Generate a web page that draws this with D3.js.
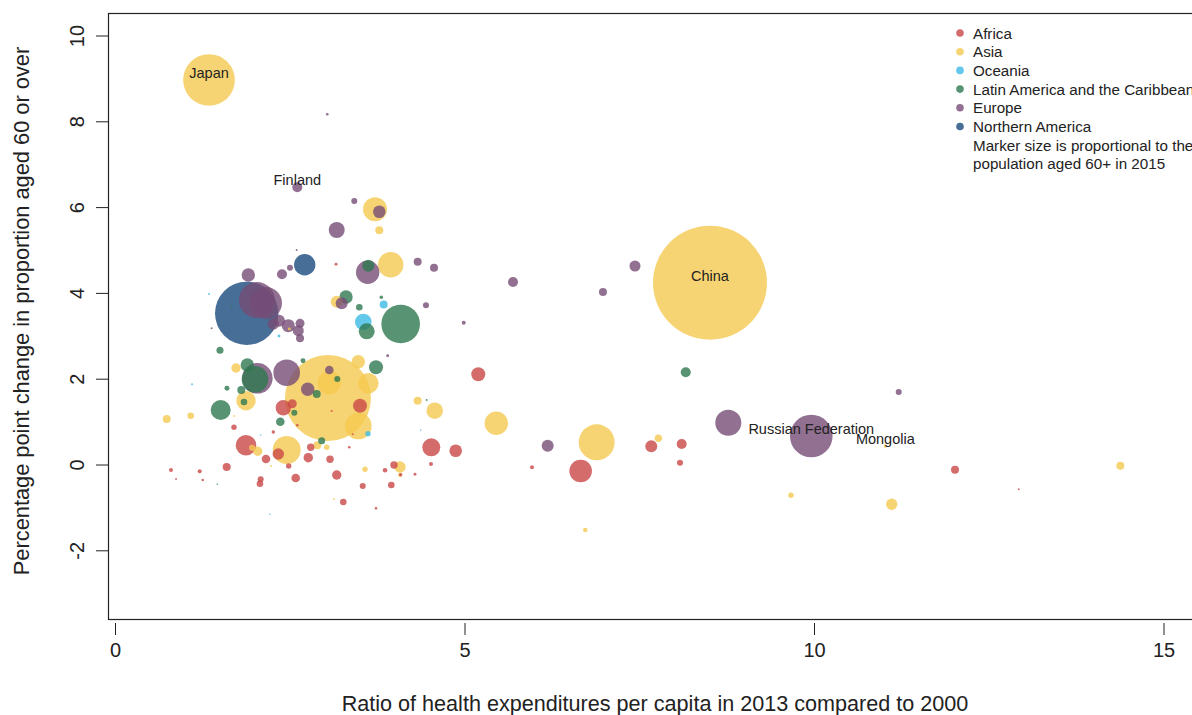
<!DOCTYPE html>
<html><head><meta charset="utf-8">
<script src="https://cdn.jsdelivr.net/npm/d3@7"></script>
<style>body{margin:0;background:#fff}svg{display:block;font-family:"Liberation Sans",Arial,sans-serif}</style>
</head><body><svg id="c" width="1192" height="715"></svg>
<script>
// Region names and colours
const regionNames = ["Africa","Asia","Oceania","Latin America and the Caribbean","Europe","Northern America"];
const regionColors = ["#C94747","#F5C950","#3DBAE6","#2E7850","#764C76","#184A7C"];

// [ratio of health expenditure 2013/2000, pp change in share aged 60+, population 60+ in 2015 (millions)]
const africa = [
 [2.408,1.324,3.81],[2.536,1.417,1.30],[1.702,0.867,0.47],[2.265,0.758,0.19],[1.874,0.448,6.82],
 [2.336,0.245,2.09],[2.160,0.128,1.19],[1.598,-0.058,1.03],[1.212,-0.159,0.26],[1.255,-0.361,0.11],
 [2.485,-0.035,0.47],[2.765,0.159,1.42],[2.800,0.401,0.88],[3.076,0.121,0.88],[2.084,-0.345,0.58],
 [2.074,-0.448,0.70],[2.585,-0.315,1.19],[2.608,0.914,0.11],[3.505,1.371,3.15],[3.100,1.247,0.06],
 [3.401,0.704,0.06],[3.352,0.401,0.11],[3.991,-0.012,0.88],[3.863,-0.135,0.34],[4.087,-0.238,0.19],
 [4.292,-0.228,0.14],[3.172,-0.245,1.42],[3.544,-0.501,0.58],[3.953,-0.478,0.70],[3.266,-0.874,0.70],
 [3.734,-1.021,0.11],[5.197,2.103,3.15],[4.525,0.401,5.21],[4.874,0.322,2.55],[4.521,0.012,0.26],
 [5.966,-0.065,0.26],[6.662,-0.152,8.2],[7.672,0.424,2.31],[8.107,0.478,1.61],[8.083,0.042,0.58],
 [12.017,-0.121,1.03],[12.929,-0.578,0.06],[0.801,-0.128,0.26],[0.873,-0.338,0.06],[3.162,4.667,0.14]
];
const asia = [
 [1.345,8.963,43],[8.512,4.238,209],[3.047,1.550,118.9],[3.720,5.949,9.26],[3.781,5.459,1.03],
 [3.944,4.657,10.4],[3.172,3.795,2.31],[3.066,1.907,8.8],[3.481,2.396,2.89],[3.624,1.893,6.82],
 [3.481,0.897,11.37],[1.874,1.487,6.05],[1.731,2.249,1.42],[0.740,1.061,1.03],[1.083,1.138,0.70],
 [1.707,1.131,0.06],[1.960,0.392,0.58],[2.041,0.308,1.42],[2.456,0.338,12.6],[2.894,0.448,1.03],
 [3.029,0.401,0.47],[2.236,-0.035,0.06],[3.577,-0.112,0.47],[4.077,-0.058,2.09],[4.077,-0.245,0.26],
 [3.133,-0.804,0.06],[4.330,1.487,1.03],[4.574,1.254,4.43],[5.455,0.960,8.8],[6.891,0.517,20.8],
 [7.773,0.611,0.88],[6.728,-1.527,0.34],[9.671,-0.718,0.47],[11.112,-0.928,2.09],[11.02,0.431,0.19],
 [14.382,-0.028,1.03],[2.494,3.159,0.14]
];
const oceania = [
 [3.552,3.322,4.43],[3.844,3.730,1.03],[3.619,0.718,0.47],[2.346,2.995,0.14],[1.345,3.974,0.06],
 [1.102,1.869,0.06],[2.084,0.688,0.04],[4.373,0.804,0.03],[2.217,-1.161,0.04]
];
const latinAmerica = [
 [4.087,3.275,23.95],[2.003,1.986,11.4],[1.512,1.270,6.43],[3.624,4.634,2.31],[3.305,3.904,2.89],
 [3.495,3.664,0.70],[3.810,3.897,0.19],[3.601,3.105,4.12],[3.734,2.266,3.15],[2.690,2.420,0.40],
 [1.893,2.319,2.89],[1.602,1.776,0.40],[1.807,1.737,1.03],[1.845,1.457,0.70],[2.886,1.643,1.03],
 [3.180,1.993,0.58],[2.565,1.207,0.58],[2.365,0.998,1.19],[2.957,0.555,0.79],[1.502,2.662,0.79],
 [8.165,2.149,1.61],[4.459,1.503,0.06],[1.670,3.678,0.06],[1.464,-0.462,0.04]
];
const europe = [
 [2.608,6.462,1.61],[3.172,5.466,4.12],[3.423,6.142,0.58],[3.781,5.893,2.55],[3.615,4.480,8.8],
 [4.330,4.727,1.03],[4.564,4.587,1.03],[3.243,3.758,2.31],[4.449,3.711,0.58],[4.989,3.305,0.26],
 [3.901,2.536,0.14],[3.037,8.163,0.11],[2.599,5.000,0.06],[2.504,4.587,0.58],[2.389,4.434,1.61],
 [1.907,4.417,2.89],[2.031,3.834,20.8],[2.160,3.765,16.5],[2.265,3.275,2.09],[2.346,3.352,2.31],
 [2.479,3.235,2.72],[2.647,3.291,1.30],[2.622,3.119,1.95],[2.647,2.942,1.03],[1.383,3.175,0.06],
 [2.036,2.009,15.05],[2.456,2.140,11.4],[2.757,1.753,2.89],[3.066,2.203,1.19],[6.190,0.438,2.31],
 [7.439,4.627,1.95],[6.981,4.021,1.03],[5.694,4.254,1.61],[8.774,0.974,10.9],[9.961,0.664,29.2],
 [11.212,1.690,0.58]
];
const northernAmerica = [
 [1.884,3.524,64.6],[2.714,4.657,7.36]
];

// Labelled countries: name, x, y
const labelNames = ["Japan","China","Finland","Russian Federation","Mongolia"];
const labelX = [1.345,8.512,2.608,9.961,11.02];
const labelY = [8.963,4.238,6.462,0.664,0.431];

const xTicks = [0,5,10,15];
const yTicks = [-2,0,2,4,6,8,10];
const xTitle = "Ratio of health expenditures per capita in 2013 compared to 2000";
const yTitle = "Percentage point change in proportion aged 60 or over";
const legendNote = ["Marker size is proportional to the","population aged 60+ in 2015"];

const svg = d3.select("#c");
const box = {left:108, top:13, right:1210, bottom:619};
const x = d3.scaleLinear().domain([0,15]).range([115,1163.5]);
const y = d3.scaleLinear().domain([0,10]).range([464.5,35.5]);
const r = d3.scaleSqrt().domain([0,209]).range([0,57]);

const series = [africa, asia, oceania, latinAmerica, europe, northernAmerica];
let pts = [];
series.forEach((arr,i)=>arr.forEach(d=>pts.push({x:d[0],y:d[1],p:d[2],reg:i})));
pts.sort((a,b)=>b.p-a.p);

svg.append("clipPath").attr("id","clp").append("rect")
  .attr("x",box.left).attr("y",box.top).attr("width",box.right-box.left).attr("height",box.bottom-box.top);

svg.append("g").attr("clip-path","url(#clp)").selectAll("circle").data(pts).join("circle")
  .attr("cx",d=>x(d.x)).attr("cy",d=>y(d.y)).attr("r",d=>Math.max(0.7,r(d.p)))
  .attr("fill",d=>regionColors[d.reg]).attr("fill-opacity",0.8);

// labels
svg.append("g").selectAll("text").data(labelNames).join("text")
  .attr("x",(d,i)=>x(labelX[i])).attr("y",(d,i)=>y(labelY[i])-7)
  .attr("text-anchor","middle").attr("dominant-baseline","central")
  .attr("font-size",14.5).attr("fill","#222").text(d=>d);

// box
svg.append("rect").attr("x",box.left+0.5).attr("y",box.top+0.5)
  .attr("width",box.right-box.left).attr("height",box.bottom-box.top)
  .attr("fill","none").attr("stroke","#222").attr("stroke-width",1.2);

// y axis
const ya = svg.append("g").attr("transform",`translate(${box.left},0)`)
  .call(d3.axisLeft(y).tickValues(yTicks).tickSize(12).tickFormat(d=>String(d)));
ya.select(".domain").remove();
ya.selectAll("line").attr("stroke","#222");
ya.selectAll("text").attr("font-size",20).attr("fill","#222").attr("font-family","Liberation Sans, Arial, sans-serif")
  .attr("x",0).attr("dy",0).attr("text-anchor","middle")
  .attr("transform","translate(-24,0) rotate(-90)");

// x axis
const xa = svg.append("g").attr("transform",`translate(0,${box.bottom+4})`)
  .call(d3.axisBottom(x).tickValues(xTicks).tickSize(12).tickPadding(8).tickFormat(d=>String(d)));
xa.select(".domain").remove();
xa.selectAll("line").attr("stroke","#222");
xa.selectAll("text").attr("font-size",20).attr("fill","#222").attr("font-family","Liberation Sans, Arial, sans-serif");

// titles
svg.append("text").attr("x",655).attr("y",711).attr("text-anchor","middle")
  .attr("font-size",21.6).attr("fill","#222").text(xTitle);
svg.append("text").attr("transform","translate(29,311) rotate(-90)").attr("text-anchor","middle")
  .attr("font-size",21.8).attr("fill","#222").text(yTitle);

// legend
const lg = svg.append("g");
regionNames.forEach((n,i)=>{
  const yy = 33 + i*18.7;
  lg.append("circle").attr("cx",960).attr("cy",yy).attr("r",3.8).attr("fill",regionColors[i]).attr("fill-opacity",0.8);
  lg.append("text").attr("x",973).attr("y",yy+5.5).attr("font-size",15.2).attr("fill","#222").text(n);
});
legendNote.forEach((t,i)=>{
  lg.append("text").attr("x",973).attr("y",33+(6+i)*18.7+5.5).attr("font-size",15.2).attr("fill","#222").text(t);
});
</script></body></html>
